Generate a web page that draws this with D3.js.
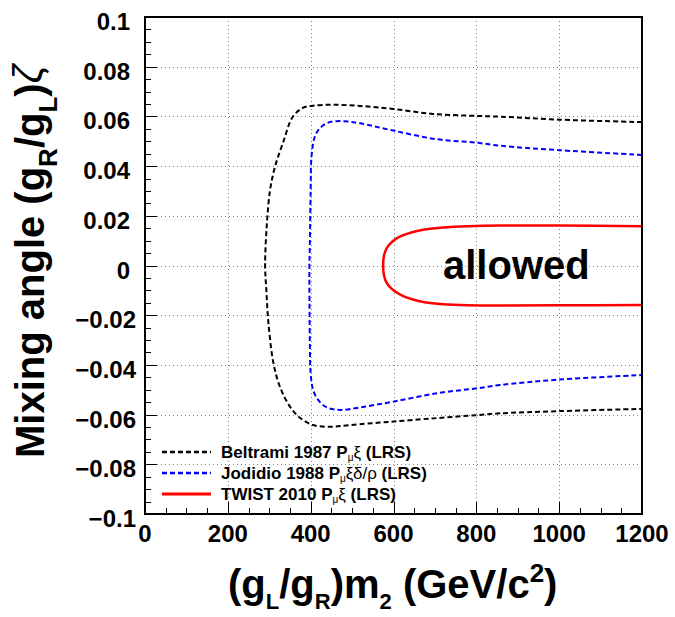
<!DOCTYPE html>
<html>
<head>
<meta charset="utf-8">
<script src="https://cdn.jsdelivr.net/npm/d3@7"></script>
<style>
  html, body { margin: 0; padding: 0; background: #fff; }
  svg { display: block; }
  text { font-family: "Liberation Sans", Arial, Helvetica, sans-serif; }
</style>
</head>
<body>
<svg id="chart" width="675" height="617"></svg>
<script>
// ---------------- data ----------------
const xTicks = [0, 200, 400, 600, 800, 1000, 1200];
const xTickLabels = ["0", "200", "400", "600", "800", "1000", "1200"];
const yTicks = [0.1, 0.08, 0.06, 0.04, 0.02, 0, -0.02, -0.04, -0.06, -0.08, -0.1];
const yTickLabels = ["0.1", "0.08", "0.06", "0.04", "0.02", "0", "\u22120.02", "\u22120.04", "\u22120.06", "\u22120.08", "\u22120.1"];

// Beltrami 1987 (black dashed), traced from top-right around to bottom-right
const beltramiM = [1200, 1000, 857, 802, 695, 599, 519, 454, 406, 381, 357, 333, 314, 302, 294, 290, 293, 298, 310, 326, 350, 375, 406, 447, 495, 592, 705, 802, 857, 1000, 1200];
const beltramiZeta = [0.0577, 0.0587, 0.0599, 0.0602, 0.0610, 0.0630, 0.0642, 0.0647, 0.0643, 0.0634, 0.0599, 0.0493, 0.0398, 0.0304, 0.0160, 0.0, -0.0099, -0.0231, -0.0392, -0.0489, -0.0568, -0.0614, -0.0642, -0.0649, -0.0642, -0.0629, -0.0614, -0.0602, -0.0595, -0.0586, -0.0577];

// Jodidio 1988 (blue dashed)
const jodidioM = [1200, 1000, 857, 802, 705, 599, 519, 478, 442, 422, 410, 402, 400, 398, 397, 397, 398, 400, 406, 418, 439, 471, 519, 599, 705, 802, 857, 1000, 1200];
const jodidioZeta = [0.0445, 0.0464, 0.0482, 0.0494, 0.0508, 0.0543, 0.0572, 0.0581, 0.0575, 0.0552, 0.0518, 0.0438, 0.0304, 0.0082, 0.0, -0.0099, -0.0300, -0.0434, -0.0501, -0.0541, -0.0571, -0.0581, -0.0571, -0.0548, -0.0514, -0.0494, -0.0481, -0.0459, -0.0441];

// TWIST 2010 (red solid)
const twistM = [1200, 1000, 857, 780, 720, 675, 645, 622, 605, 592, 583, 577, 575, 577, 583, 592, 605, 622, 645, 675, 720, 780, 857, 1000, 1200];
const twistZeta = [0.0158, 0.0161, 0.0161, 0.0158, 0.0153, 0.0145, 0.0134, 0.0121, 0.0106, 0.0088, 0.0068, 0.0040, 0.0, -0.0040, -0.0068, -0.0088, -0.0106, -0.0122, -0.0136, -0.0148, -0.0156, -0.0160, -0.0161, -0.0160, -0.0159];

const seriesNames = ["Beltrami 1987 P", "Jodidio 1988 P", "TWIST 2010 P"];
const seriesGreek = ["\u03BE", "\u03BE\u03B4/\u03C1", "\u03BE"];

// ---------------- layout ----------------
const svg = d3.select("#chart");
const L = 145, R = 642, T = 17, B = 514;
const x = d3.scaleLinear().domain([0, 1200]).range([L, R]);
const y = d3.scaleLinear().domain([-0.1, 0.1]).range([B, T]);

svg.append("rect").attr("width", 675).attr("height", 617).attr("fill", "#fff");

// grid
const grid = svg.append("g").attr("stroke", "#808080").attr("stroke-width", 1).attr("stroke-dasharray", "1,3");
xTicks.slice(1, -1).forEach(v => {
  grid.append("line").attr("x1", Math.round(x(v)) + 0.5).attr("x2", Math.round(x(v)) + 0.5).attr("y1", T).attr("y2", B);
});
yTicks.slice(1, -1).forEach(v => {
  grid.append("line").attr("y1", Math.round(y(v)) + 0.5).attr("y2", Math.round(y(v)) + 0.5).attr("x1", L).attr("x2", R);
});

// ticks (inside, left and bottom)
const tk = svg.append("g").attr("stroke", "#000").attr("stroke-width", 1);
d3.range(0, 1200.1, 50).forEach((v, i) => {
  const len = (i % 4 === 0) ? 12 : 6;
  tk.append("line").attr("x1", Math.round(x(v)) + 0.5).attr("x2", Math.round(x(v)) + 0.5).attr("y1", B).attr("y2", B - len);
});
d3.range(0, 40.1, 1).forEach((k) => {
  const v = -0.1 + k * 0.005;
  const len = (k % 4 === 0) ? 12 : 6;
  tk.append("line").attr("y1", Math.round(y(v)) + 0.5).attr("y2", Math.round(y(v)) + 0.5).attr("x1", L).attr("x2", L + len);
});

// curves
const line = d3.line().x(d => x(d[0])).y(d => y(d[1])).curve(d3.curveCatmullRom.alpha(0.5));
const plot = svg.append("g");
plot.append("path").datum(d3.zip(beltramiM, beltramiZeta)).attr("d", line)
  .attr("fill", "none").attr("stroke", "#000").attr("stroke-width", 2).attr("stroke-dasharray", "5,3");
plot.append("path").datum(d3.zip(jodidioM, jodidioZeta)).attr("d", line)
  .attr("fill", "none").attr("stroke", "#0000ff").attr("stroke-width", 2).attr("stroke-dasharray", "5,3");
plot.append("path").datum(d3.zip(twistM, twistZeta)).attr("d", line)
  .attr("fill", "none").attr("stroke", "#ff0000").attr("stroke-width", 2.5);

// frame
svg.append("rect").attr("x", L).attr("y", T).attr("width", R - L).attr("height", B - T)
  .attr("fill", "none").attr("stroke", "#000").attr("stroke-width", 2);

// tick labels
const xl = svg.append("g").attr("font-size", 24).attr("font-weight", "bold").attr("text-anchor", "middle");
xTicks.forEach((v, i) => {
  xl.append("text").attr("x", x(v)).attr("y", 542).text(xTickLabels[i]);
});
const yl = svg.append("g").attr("font-size", 24).attr("font-weight", "bold").attr("text-anchor", "end");
yTicks.forEach((v, i) => {
  yl.append("text").attr("x", v < 0 ? 136 : 130).attr("y", y(v) + 13).text(yTickLabels[i]);
});

// axis titles
const xt = svg.append("text").attr("x", 228).attr("y", 598).attr("font-size", 40).attr("font-weight", "bold");
xt.append("tspan").text("(g");
xt.append("tspan").attr("font-size", 22).attr("dy", 11).text("L");
xt.append("tspan").attr("dy", -11).text("/g");
xt.append("tspan").attr("font-size", 22).attr("dy", 11).text("R");
xt.append("tspan").attr("dy", -11).text(")m");
xt.append("tspan").attr("font-size", 22).attr("dy", 11).text("2");
xt.append("tspan").attr("dy", -11).text(" (GeV/c");
xt.append("tspan").attr("font-size", 26).attr("dy", -16).text("2");
xt.append("tspan").attr("dy", 16).text(")");

const yt = svg.append("text").attr("transform", "translate(44,458) rotate(-90)").attr("font-size", 40).attr("font-weight", "bold");
yt.append("tspan").text("Mixing angle (g");
yt.append("tspan").attr("font-size", 26).attr("dy", 13).text("R");
yt.append("tspan").attr("dy", -13).text("/g");
yt.append("tspan").attr("font-size", 26).attr("dy", 13).text("L");
yt.append("tspan").attr("dy", -13).text(")");
yt.append("tspan").attr("font-weight", "normal").attr("font-style", "italic").attr("font-size", 40).attr("dy", -2).text("\u03B6");

// allowed
svg.append("text").attr("x", 443).attr("y", 279).attr("font-size", 40).attr("font-weight", "bold").text("allowed");

// legend
const legColors = ["#000", "#0000ff", "#ff0000"];
const legDash = ["5,3", "5,3", null];
const legY = [452, 473, 494];
const leg = svg.append("g");
seriesNames.forEach((name, i) => {
  leg.append("line").attr("x1", 162).attr("x2", 211).attr("y1", legY[i]).attr("y2", legY[i])
    .attr("stroke", legColors[i]).attr("stroke-width", i === 2 ? 3 : 2.5)
    .attr("stroke-dasharray", legDash[i]);
  const t = leg.append("text").attr("x", 221).attr("y", legY[i] + 6).attr("font-size", 17).attr("font-weight", "bold");
  t.append("tspan").text(name);
  t.append("tspan").attr("font-size", 10).attr("font-weight", "normal").attr("dy", 3).text("\u03BC");
  t.append("tspan").attr("dy", -3).attr("font-weight", "normal").text(seriesGreek[i]);
  t.append("tspan").text(" (LRS)");
});
</script>
</body>
</html>
